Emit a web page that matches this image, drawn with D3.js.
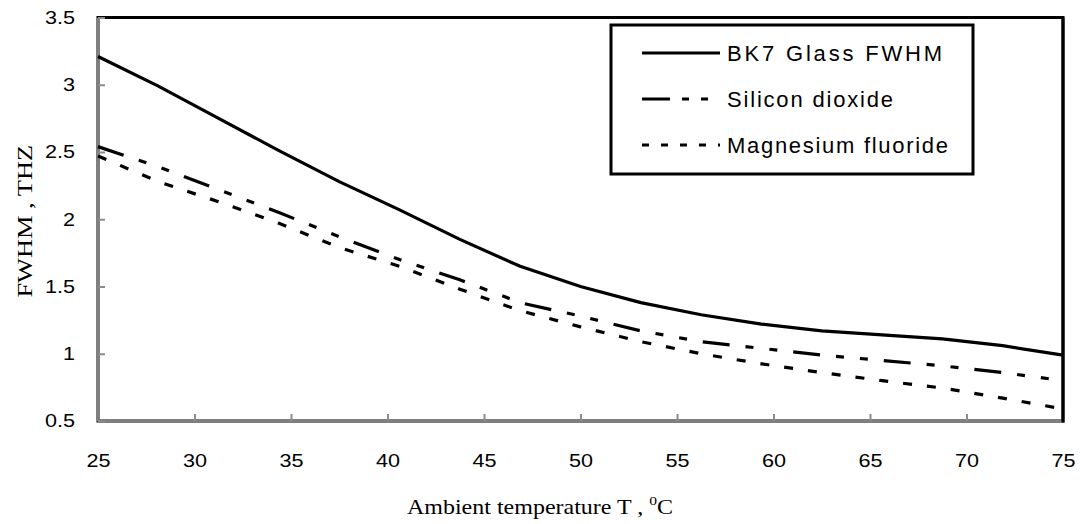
<!DOCTYPE html>
<html>
<head>
<meta charset="utf-8">
<script src="https://cdn.jsdelivr.net/npm/d3@7"></script>
<style>
  body { margin: 0; background: #fff; }
  svg { display: block; }
</style>
</head>
<body>
<div id="grafica"></div>
<script>
// data
var temps = [25, 28.125, 31.25, 34.375, 37.5, 40.625, 43.75, 46.875, 50,
             53.125, 56.25, 59.375, 62.5, 65.625, 68.75, 71.875, 75];
var bk7 = [3.21, 2.99, 2.75, 2.51, 2.28, 2.07, 1.85, 1.65, 1.50,
           1.38, 1.29, 1.22, 1.17, 1.14, 1.11, 1.06, 0.99];
var sio2 = [2.54, 2.39, 2.22, 2.05, 1.87, 1.70, 1.55, 1.38, 1.28,
            1.17, 1.09, 1.04, 0.99, 0.95, 0.91, 0.86, 0.80];
var mgf2 = [2.47, 2.28, 2.13, 1.97, 1.79, 1.65, 1.48, 1.32, 1.20,
            1.09, 1.00, 0.925, 0.86, 0.80, 0.745, 0.67, 0.59];
var seriesNames = ["BK7 Glass FWHM", "Silicon dioxide", "Magnesium fluoride"];
var xTicks = [25, 30, 35, 40, 45, 50, 55, 60, 65, 70, 75];
var yTicks = [0.5, 1, 1.5, 2, 2.5, 3, 3.5];

var w_full = 1080,
    h_full = 524;
var margin = { top: 17.5, right: 17, bottom: 103, left: 98 };
var w = w_full - margin.left - margin.right,
    h = h_full - margin.top - margin.bottom;

var svg = d3.select("#grafica")
    .append("svg")
    .attr("width", w_full)
    .attr("height", h_full)
    .append("g")
    .attr("transform", "translate(" + margin.left + "," + margin.top + ")");

var x = d3.scaleLinear().domain([25, 75]).range([0, w]);
var y = d3.scaleLinear().domain([0.5, 3.5]).range([h, 0]);

var tickFont = "'Liberation Sans', Arial, sans-serif";
var serifFont = "'Liberation Serif', 'Times New Roman', serif";
var stretch = 1.2;   // the original text looks a bit wide

// plot frame (black)
svg.append("rect")
    .attr("x", 0).attr("y", 0)
    .attr("width", w).attr("height", h)
    .attr("fill", "none")
    .attr("stroke", "#000")
    .attr("stroke-width", 3);

// axes (grey, ticks pointing inwards)
var xAxis = svg.append("g")
    .attr("transform", "translate(0," + h + ")")
    .call(d3.axisBottom(x).tickValues(xTicks).tickSize(-7).tickSizeOuter(0).tickPadding(33));
var yAxis = svg.append("g")
    .call(d3.axisLeft(y).tickValues(yTicks).tickSize(-7).tickSizeOuter(0)
        .tickFormat(function(d) { return d; }));

[xAxis, yAxis].forEach(function(a) {
    a.select(".domain").attr("stroke", "#7f7f7f").attr("stroke-width", 3);
    a.selectAll(".tick line").attr("stroke", "#8c8c8c").attr("stroke-width", 2);
    a.selectAll("text")
        .attr("fill", "#000")
        .style("font-family", tickFont)
        .style("font-size", "18px");
});
xAxis.selectAll(".tick text").attr("transform", "scale(" + stretch + ",1)");
yAxis.selectAll(".tick text")
    .attr("x", -23 / stretch)
    .attr("transform", "scale(" + stretch + ",1)");

// right-hand black edge over the grey axis corner
svg.append("line")
    .attr("x1", w).attr("x2", w)
    .attr("y1", 0).attr("y2", h + 1.5)
    .attr("stroke", "#000").attr("stroke-width", 3);

// lines
var dashes = [null, "27,16,8,16,8,16", "9,15"];
[bk7, sio2, mgf2].forEach(function(vals, k) {
    var pts = temps.map(function(t, i) { return [t, vals[i]]; });
    svg.append("path")
        .datum(pts)
        .attr("d", d3.line()
            .x(function(d) { return x(d[0]); })
            .y(function(d) { return y(d[1]); }))
        .attr("fill", "none")
        .attr("stroke", "#000")
        .attr("stroke-width", 3.2)
        .style("stroke-dasharray", dashes[k]);
});

// legend
var leg = svg.append("g")
    .attr("transform", "translate(" + (611 - margin.left) + "," + (25 - margin.top) + ")");
leg.append("rect")
    .attr("width", 362).attr("height", 149)
    .attr("fill", "#fff")
    .attr("stroke", "#000")
    .attr("stroke-width", 3);
var legDash = [null, "28,12,7,12,7,12", "7,12"];
var legWidths = [215, 166, 221];
seriesNames.forEach(function(name, k) {
    var ly = 28 + k * 46;
    leg.append("line")
        .attr("x1", 31).attr("x2", 109)
        .attr("y1", ly).attr("y2", ly)
        .attr("stroke", "#000")
        .attr("stroke-width", 3.2)
        .style("stroke-dasharray", legDash[k]);
    leg.append("text")
        .attr("x", 116).attr("y", ly)
        .attr("dy", "0.36em")
        .attr("textLength", legWidths[k])
        .attr("lengthAdjust", "spacing")
        .style("font-family", tickFont)
        .style("font-size", "22px")
        .text(name);
});

// axis titles
var title = svg.append("text")
    .attr("transform", "translate(" + (540 - margin.left) + "," + (h + 93) + ") scale(" + stretch + ",1)")
    .attr("text-anchor", "middle")
    .style("font-family", serifFont)
    .style("font-size", "20px");
title.append("tspan").text("Ambient temperature T , ");
title.append("tspan").attr("dy", -9).style("font-size", "13px").text("0");
title.append("tspan").attr("dy", 9).text("C");

svg.append("text")
    .attr("transform", "translate(" + (32 - margin.left) + "," + (h / 2 + 2) + ") rotate(-90) scale(" + stretch + ",1)")
    .attr("text-anchor", "middle")
    .style("font-family", serifFont)
    .style("font-size", "22px")
    .text("FWHM , THZ");
</script>
</body>
</html>
